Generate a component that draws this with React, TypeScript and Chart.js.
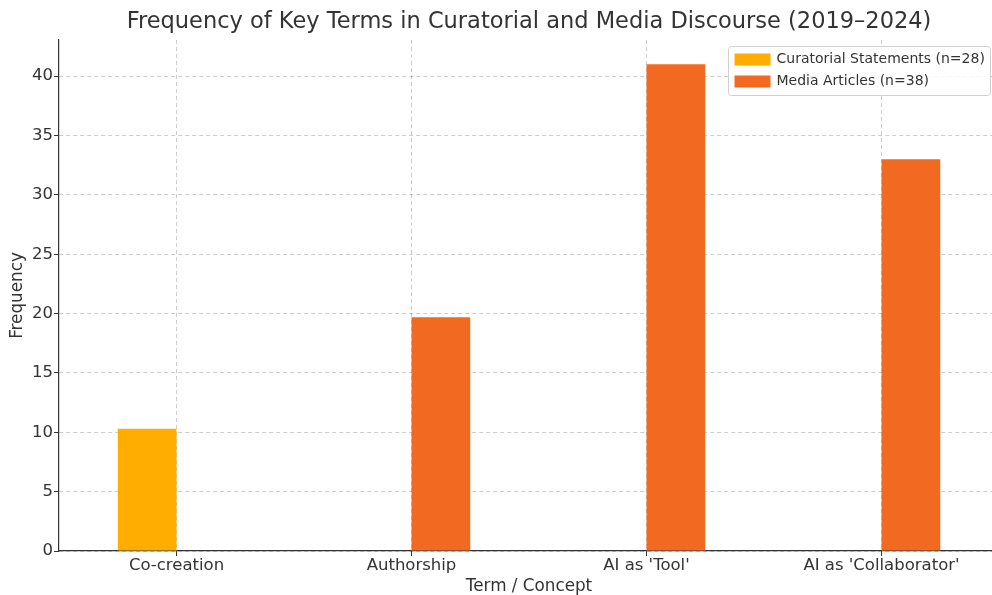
import React, { useEffect, useRef } from "react";
import { Chart, registerables } from "chart.js";

Chart.register(...registerables);

const categories = ["Co-creation", "Authorship", "AI as 'Tool'", "AI as 'Collaborator'"];
const curatorialValues = [10.3, 0, 0, 0];
const mediaValues = [0, 19.7, 41, 33];
const seriesLabels = ["Curatorial Statements (n=28)", "Media Articles (n=38)"];
const seriesColors = ["#FFAE00", "#F26A22"];
const yTickStep = 5;
const yMax = 43.05;
const chartTitle = "Frequency of Key Terms in Curatorial and Media Discourse (2019–2024)";

const FONT = "'DejaVu Sans', sans-serif";
const TEXT = "#333333";
const GRID = "rgba(0,0,0,0.2)";

const titlePlugin = {
  id: "axesTitle",
  afterDraw(chart: any) {
    const ctx = chart.ctx;
    const area = chart.chartArea;
    ctx.save();
    ctx.font = `22.5px ${FONT}`;
    ctx.fillStyle = TEXT;
    ctx.textAlign = "center";
    ctx.textBaseline = "middle";
    ctx.fillText(chartTitle, (area.left + area.right) / 2, 22);
    ctx.restore();
  },
};

const legendPlugin = {
  id: "insideLegend",
  afterDraw(chart: any) {
    const ctx = chart.ctx;
    const x = 728.5;
    const y = 46.5;
    const w = 262;
    const h = 49;
    ctx.save();
    ctx.beginPath();
    const r = 3;
    ctx.moveTo(x + r, y);
    ctx.lineTo(x + w - r, y);
    ctx.quadraticCurveTo(x + w, y, x + w, y + r);
    ctx.lineTo(x + w, y + h - r);
    ctx.quadraticCurveTo(x + w, y + h, x + w - r, y + h);
    ctx.lineTo(x + r, y + h);
    ctx.quadraticCurveTo(x, y + h, x, y + h - r);
    ctx.lineTo(x, y + r);
    ctx.quadraticCurveTo(x, y, x + r, y);
    ctx.closePath();
    ctx.fillStyle = "rgba(255,255,255,0.85)";
    ctx.fill();
    ctx.strokeStyle = "#d0d0d0";
    ctx.lineWidth = 1;
    ctx.stroke();
    ctx.font = `14px ${FONT}`;
    ctx.textBaseline = "middle";
    ctx.textAlign = "left";
    chart.data.datasets.forEach((ds: any, i: number) => {
      const cy = y + 12 + i * 22;
      ctx.fillStyle = ds.backgroundColor;
      ctx.fillRect(x + 6, cy - 5, 36, 12);
      ctx.fillStyle = TEXT;
      ctx.fillText(ds.label, x + 48, cy + 1);
    });
    ctx.restore();
  },
};

export default function App() {
  const ref = useRef<HTMLCanvasElement | null>(null);
  useEffect(() => {
    if (!ref.current) return;
    const chart = new Chart(ref.current, {
      type: "bar",
      data: {
        labels: categories,
        datasets: [
          {
            label: seriesLabels[0],
            data: curatorialValues,
            backgroundColor: seriesColors[0],
            categoryPercentage: 0.5,
            barPercentage: 1.0,
          },
          {
            label: seriesLabels[1],
            data: mediaValues,
            backgroundColor: seriesColors[1],
            categoryPercentage: 0.5,
            barPercentage: 1.0,
          },
        ],
      },
      options: {
        animation: false,
        responsive: false,
        maintainAspectRatio: false,
        layout: { padding: { left: 0, right: 0, top: 40, bottom: 0 } },
        plugins: {
          legend: { display: false },
          tooltip: { enabled: false },
          title: { display: false },
        },
        scales: {
          x: {
            offset: true,
            grid: {
              offset: false,
              color: GRID,
              tickColor: TEXT,
              tickLength: 5,
              tickBorderDash: [],
              drawTicks: true,
            } as any,
            border: { display: true, color: TEXT, width: 1.2, dash: [4, 3] },
            ticks: {
              color: TEXT,
              font: { family: FONT, size: 16.5 },
              padding: 0,
              maxRotation: 0,
            },
            title: {
              display: true,
              text: "Term / Concept",
              color: TEXT,
              font: { family: FONT, size: 16.8, lineHeight: 1.0 },
              padding: { top: 0, bottom: 0 },
            },
            afterFit(scale: any) {
              scale.height = 44;
            },
          },
          y: {
            min: 0,
            max: yMax,
            ticks: {
              stepSize: yTickStep,
              color: TEXT,
              font: { family: FONT, size: 16.5 },
              padding: 1,
            },
            afterBuildTicks(scale: any) {
              scale.ticks = scale.ticks.filter((t: any) => t.value % yTickStep === 0);
            },
            grid: {
              color: GRID,
              tickColor: TEXT,
              tickLength: 5,
              tickBorderDash: [],
            } as any,
            border: { display: true, color: TEXT, width: 1.2, dash: [4, 3] },
            title: {
              display: true,
              text: "Frequency",
              color: TEXT,
              font: { family: FONT, size: 16.8, lineHeight: 1.2 },
              padding: { top: 8, bottom: 0 },
            },
            afterFit(scale: any) {
              scale.width = 59;
            },
          },
        },
      },
      plugins: [titlePlugin, legendPlugin],
    });
    return () => chart.destroy();
  }, []);
  return (
    <div style={{ position: "absolute", left: 0, top: 0, width: 992, height: 595, overflow: "hidden", background: "#fff" }}>
      <canvas ref={ref} width={999} height={595} style={{ display: "block" }} />
    </div>
  );
}
